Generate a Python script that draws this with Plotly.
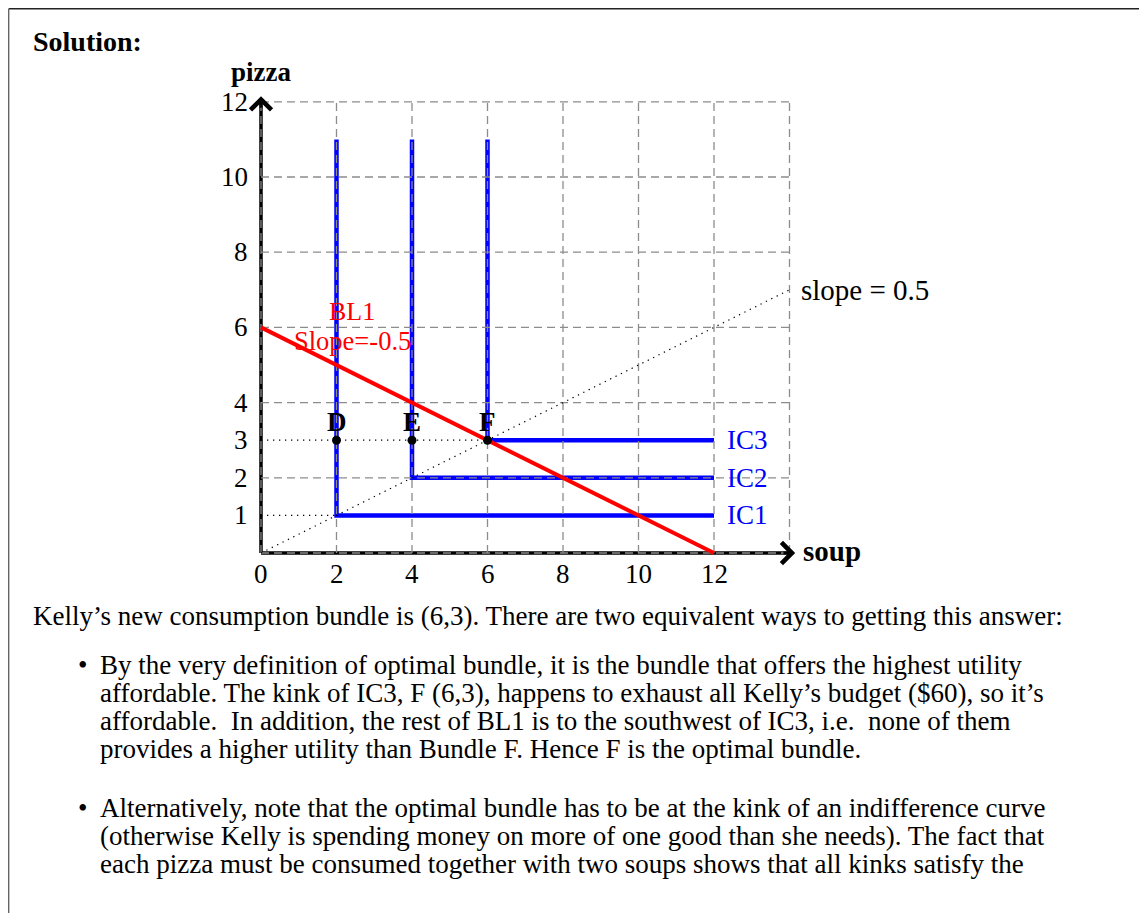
import plotly.graph_objects as go

# screen size and page offset (body margin)
SW, SH = 1147, 921
OFF = 8
W, H = SW - 2 * OFF, SH - 2 * OFF

# ---- data ----
ic_names = ["IC1", "IC2", "IC3"]
ic_kink_x = [2, 4, 6]
ic_kink_y = [1, 2, 3]
ic_top = 11
ic_right = 12
bl_x = [0, 12]
bl_y = [6, 0]
pt_labels = ["D", "E", "F"]
pt_x = [2, 4, 6]
pt_y = [3, 3, 3]
ray_x = [0, 14]
ray_y = [0, 7]
x_ticks = [0, 2, 4, 6, 8, 10, 12]
y_ticks = [1, 2, 3, 4, 6, 8, 10, 12]
grid_x = [0, 2, 4, 6, 8, 10, 12, 14]
grid_y = [0, 2, 4, 6, 8, 10, 12]
x_max, y_max = 14, 12

SERIF = "Liberation Serif, Times New Roman, serif"
BODY = 27
LAB = 27
BOLD = 29

def px(x):
    return (x - OFF) / W

def py(y):
    return 1 - (y - OFF) / H

# pixel geometry of the plot (screen coords)
X0S, UX = 261.0, 37.75      # x=0 pixel, px per unit
Y0S, UY = 553.0, 37.6       # y=0 pixel, px per unit
XR = [-1.0, 18.0]
YR = [-1.0, 13.5]

fig = go.Figure()

dash_style = dict(color="#8c8c8c", width=1.3, dash="8px,5px")
dot_style = dict(color="black", width=1.2, dash="1.3px,4.7px")

# axis lines (drawn first; grid dashes appear on top)
fig.add_trace(go.Scatter(x=[0, x_max + 0.05], y=[0, 0], mode="lines",
                         line=dict(color="black", width=3.5), hoverinfo="skip"))
fig.add_trace(go.Scatter(x=[0, 0], y=[0, y_max + 0.05], mode="lines",
                         line=dict(color="black", width=3.5), hoverinfo="skip"))

# indifference curves
for name, kx, ky in zip(ic_names, ic_kink_x, ic_kink_y):
    fig.add_trace(go.Scatter(x=[kx, kx, ic_right], y=[ic_top, ky, ky], mode="lines",
                             line=dict(color="#0000ff", width=4.5), name=name, hoverinfo="skip"))

# grid (dashed gray) as traces
for gx in grid_x:
    fig.add_trace(go.Scatter(x=[gx, gx], y=[0, y_max], mode="lines",
                             line=dash_style, hoverinfo="skip"))
for gy in grid_y:
    fig.add_trace(go.Scatter(x=[0, x_max], y=[gy, gy], mode="lines",
                             line=dash_style, hoverinfo="skip"))

# dotted ray
fig.add_trace(go.Scatter(x=ray_x, y=ray_y, mode="lines", line=dot_style, hoverinfo="skip"))
# dotted guides to the y axis
fig.add_trace(go.Scatter(x=[0, pt_x[-1]], y=[pt_y[-1], pt_y[-1]], mode="lines",
                         line=dot_style, hoverinfo="skip"))
fig.add_trace(go.Scatter(x=[0, ic_kink_x[0]], y=[ic_kink_y[0], ic_kink_y[0]], mode="lines",
                         line=dot_style, hoverinfo="skip"))

# budget line
fig.add_trace(go.Scatter(x=bl_x, y=bl_y, mode="lines",
                         line=dict(color="#ff0000", width=4), hoverinfo="skip"))

# points
fig.add_trace(go.Scatter(x=pt_x, y=pt_y, mode="markers",
                         marker=dict(color="black", size=9), hoverinfo="skip"))

annotations = []
# arrow heads
annotations.append(dict(x=x_max + 0.15, y=0, ax=x_max - 0.2, ay=0, xref="x", yref="y",
                        axref="x", ayref="y", showarrow=True, arrowhead=4, arrowsize=1.35,
                        arrowwidth=3.0, arrowcolor="black", text=""))
annotations.append(dict(x=0, y=y_max + 0.15, ax=0, ay=y_max - 0.2, xref="x", yref="y",
                        axref="x", ayref="y", showarrow=True, arrowhead=4, arrowsize=1.35,
                        arrowwidth=3.0, arrowcolor="black", text=""))
# axis titles
annotations.append(dict(x=14.3, y=0.05, xref="x", yref="y", text="<b>soup</b>",
                        showarrow=False, xanchor="left", yanchor="middle",
                        font=dict(family=SERIF, size=BOLD, color="black")))
annotations.append(dict(x=0, y=12.78, xref="x", yref="y", text="<b>pizza</b>",
                        showarrow=False, xanchor="center", yanchor="middle",
                        font=dict(family=SERIF, size=27, color="black")))
# IC labels
for name, ky in zip(ic_names, ic_kink_y):
    annotations.append(dict(x=ic_right + 0.3, y=ky, xref="x", yref="y", text=name,
                            showarrow=False, xanchor="left", yanchor="middle",
                            font=dict(family=SERIF, size=LAB, color="#0000ff")))
# point labels
for lab, x, y in zip(pt_labels, pt_x, pt_y):
    annotations.append(dict(x=x, y=y + 0.48, xref="x", yref="y", text="<b>" + lab + "</b>",
                            showarrow=False, xanchor="center", yanchor="middle",
                            font=dict(family=SERIF, size=LAB, color="black")))
# BL1 label
annotations.append(dict(x=2.42, y=6.42, xref="x", yref="y", text="BL1",
                        showarrow=False, xanchor="center", yanchor="middle",
                        font=dict(family=SERIF, size=26, color="#ff0000")))
annotations.append(dict(x=2.42, y=5.64, xref="x", yref="y", text="Slope=-0.5",
                        showarrow=False, xanchor="center", yanchor="middle",
                        font=dict(family=SERIF, size=26.5, color="#ff0000")))
# slope label
annotations.append(dict(x=14.25, y=ray_y[-1], xref="x", yref="y", text="slope = 0.5",
                        showarrow=False, xanchor="left", yanchor="middle",
                        font=dict(family=SERIF, size=29, color="black")))
# tick labels
for v in x_ticks:
    annotations.append(dict(x=v, y=-0.55, xref="x", yref="y", text=str(v),
                            showarrow=False, xanchor="center", yanchor="middle",
                            font=dict(family=SERIF, size=LAB, color="black")))
for v in y_ticks:
    annotations.append(dict(x=-0.3, y=v, xref="x", yref="y", text=str(v),
                            showarrow=False, xanchor="right", yanchor="middle",
                            font=dict(family=SERIF, size=LAB, color="black")))

# page text
annotations.append(dict(x=px(31), y=py(42), xref="paper", yref="paper", text="<b>Solution:</b>",
                        showarrow=False, xanchor="left", yanchor="middle",
                        font=dict(family=SERIF, size=28, color="black")))
lines = [
    (31, 616, "Kelly’s new consumption bundle is (6,3). There are two equivalent ways to getting this answer:"),
    (98, 665, "By the very definition of optimal bundle, it is the bundle that offers the highest utility"),
    (98, 693, "affordable. The kink of IC3, F (6,3), happens to exhaust all Kelly’s budget ($60), so it’s"),
    (98, 721, "affordable.  In addition, the rest of BL1 is to the southwest of IC3, i.e.  none of them"),
    (98, 749, "provides a higher utility than Bundle F. Hence F is the optimal bundle."),
    (98, 808, "Alternatively, note that the optimal bundle has to be at the kink of an indifference curve"),
    (98, 836, "(otherwise Kelly is spending money on more of one good than she needs). The fact that"),
    (98, 864, "each pizza must be consumed together with two soups shows that all kinks satisfy the"),
]
for x, y, t in lines:
    annotations.append(dict(x=px(x), y=py(y), xref="paper", yref="paper", text=t,
                            showarrow=False, xanchor="left", yanchor="middle",
                            font=dict(family=SERIF, size=BODY, color="black")))
for y in [665, 808]:
    annotations.append(dict(x=px(76), y=py(y), xref="paper", yref="paper", text="•",
                            showarrow=False, xanchor="left", yanchor="middle",
                            font=dict(family=SERIF, size=BODY, color="black")))

shapes = [
    dict(type="line", xref="paper", yref="paper", x0=px(8.7), x1=px(1160), y0=py(8.7), y1=py(8.7),
         line=dict(color="#222222", width=1.4)),
    dict(type="line", xref="paper", yref="paper", x0=px(8.7), x1=px(8.7), y0=py(8.7), y1=py(940),
         line=dict(color="#666666", width=1.4)),
]

# axis domains computed from pixel geometry
xd0 = px(X0S + XR[0] * UX)
xd1 = px(X0S + XR[1] * UX)
yd0 = py(Y0S - YR[0] * UY)
yd1 = py(Y0S - YR[1] * UY)

fig.update_layout(
    width=W, height=H, margin=dict(l=0, r=0, t=0, b=0),
    paper_bgcolor="white", plot_bgcolor="rgba(0,0,0,0)",
    showlegend=False, shapes=shapes, annotations=annotations,
    xaxis=dict(domain=[xd0, xd1], range=XR, visible=False, fixedrange=True),
    yaxis=dict(domain=[yd0, yd1], range=YR, visible=False, fixedrange=True),
)

fig.write_html("out.html")
